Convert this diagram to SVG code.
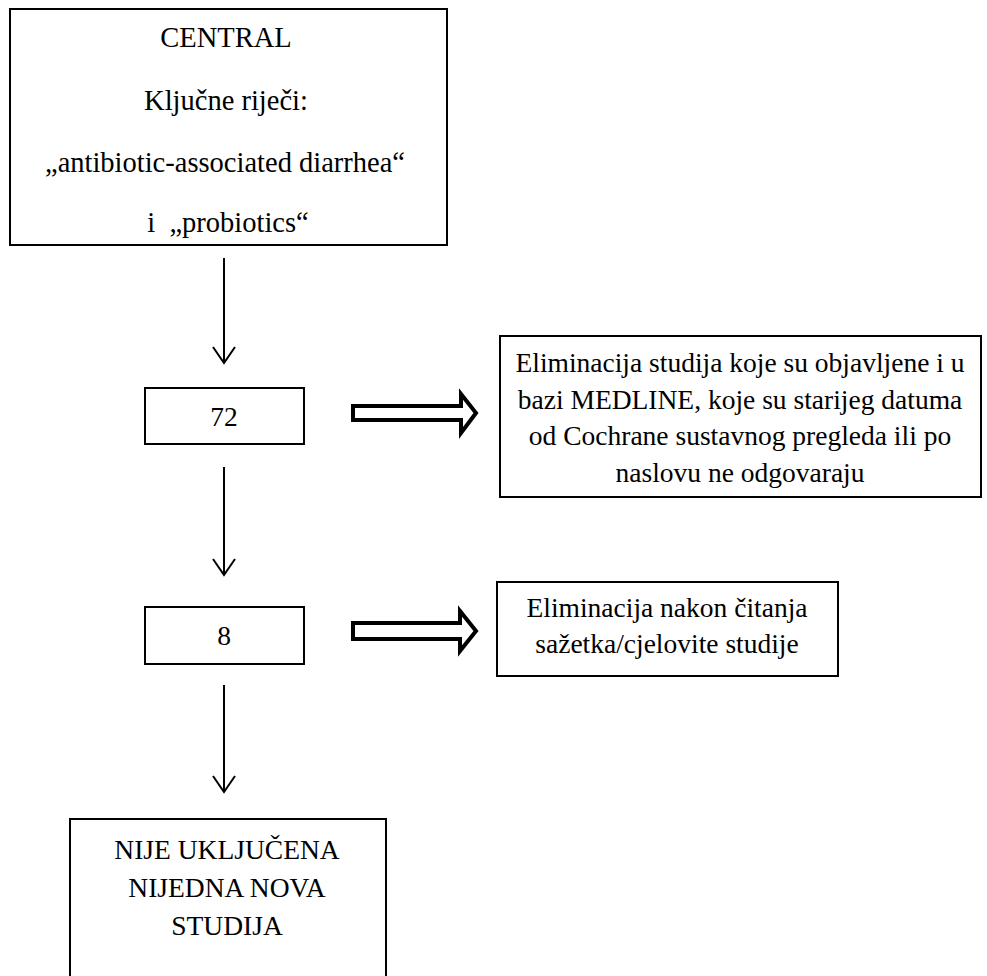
<svg xmlns="http://www.w3.org/2000/svg" width="987" height="976" viewBox="0 0 987 976">
<style>
.box{fill:#fff;stroke:#000;stroke-width:2}
.t{font-family:"Liberation Serif","Times New Roman",serif;font-size:27.5px;fill:#000;text-anchor:middle}
.tt{font-size:28.5px}
.ln{stroke:#000;stroke-width:2;fill:none}
.blk{fill:#fff;stroke:#000;stroke-width:4;stroke-linejoin:miter}
</style>
<rect width="987" height="976" fill="#fff"/>
<g id="central">
<rect class="box" x="10" y="9" width="437" height="236"/>
<text class="t tt" x="226" y="47">CENTRAL</text>
<text class="t tt" x="226" y="110">Ključne riječi:</text>
<text class="t tt" x="225" y="172">„antibiotic-associated diarrhea“</text>
<text class="t tt" x="228" y="232">i&#160; „probiotics“</text>
</g>
<g id="n72">
<rect class="box" x="145" y="388" width="159" height="56"/>
<text class="t" x="224" y="426">72</text>
</g>
<g id="elim1">
<rect class="box" x="500" y="336" width="481" height="161"/>
<text class="t" x="740" y="372">Eliminacija studija koje su objavljene i u</text>
<text class="t" x="740" y="409">bazi MEDLINE, koje su starijeg datuma</text>
<text class="t" x="740" y="445">od Cochrane sustavnog pregleda ili po</text>
<text class="t" x="740" y="482">naslovu ne odgovaraju</text>
</g>
<g id="n8">
<rect class="box" x="145" y="607" width="159" height="57"/>
<text class="t" x="224" y="645">8</text>
</g>
<g id="elim2">
<rect class="box" x="497" y="582" width="341" height="94"/>
<text class="t" x="667" y="617">Eliminacija nakon čitanja</text>
<text class="t" x="667" y="653">sažetka/cjelovite studije</text>
</g>
<g id="result">
<rect class="box" x="70" y="819" width="316" height="180"/>
<text class="t" x="227" y="859">NIJE UKLJUČENA</text>
<text class="t" x="227" y="897">NIJEDNA NOVA</text>
<text class="t" x="227" y="935">STUDIJA</text>
</g>
<g id="connectors">
<path class="ln" d="M224,258 V362 M213,347 L224,363 L235,347"/>
<path class="ln" d="M224,467 V574 M213,559 L224,575 L235,559"/>
<path class="ln" d="M224,685 V791 M213,776 L224,792 L235,776"/>
<path class="blk" d="M353,406 H461 V394 L476,413 L461,433 V420 H353 Z"/>
<path class="blk" d="M353,623 H460 V611 L476,631 L460,651 V639 H353 Z"/>
</g>
</svg>
